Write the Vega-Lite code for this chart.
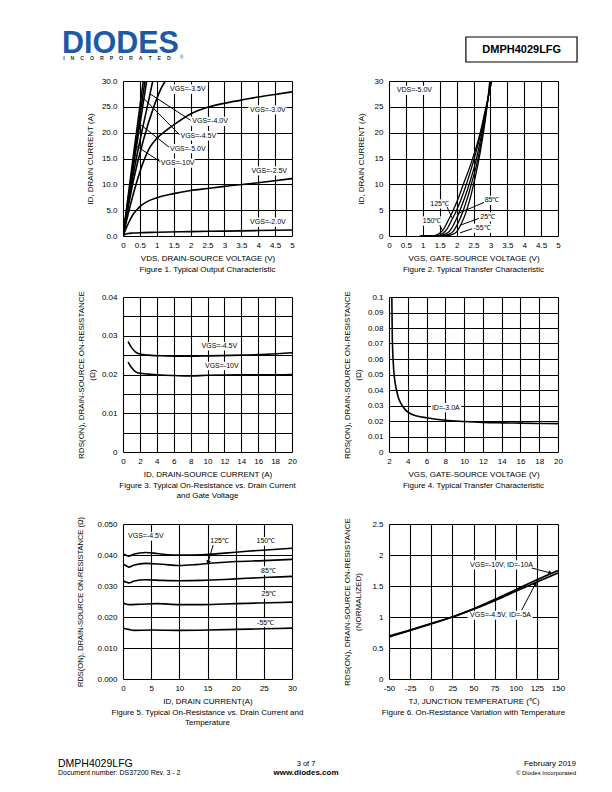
{
 "$schema": "https://vega.github.io/schema/vega-lite/v6.json",
 "padding": {"left": 58, "top": 28, "right": 0, "bottom": 0},
 "autosize": {"type": "pad"},
 "background": "white",
 "config": {
  "font": "Liberation Sans",
  "view": {"stroke": null},
  "axis": {"grid": true, "gridColor": "#000", "gridWidth": 1.1, "gridOpacity": 1, "domain": false, "ticks": false, "labelFontSize": 8, "labelColor": "#000", "labelFont": "Liberation Sans", "titleFont": "Liberation Sans", "titleFontSize": 8, "titleFontWeight": "normal", "titleColor": "#000", "labelOverlap": false, "labelFlush": false},
  "axisX": {"labelPadding": 5, "titlePadding": 5},
  "axisY": {"labelPadding": 6, "titlePadding": 7, "titleLineHeight": 11},
  "title": {"orient": "bottom", "fontSize": 8, "fontWeight": "normal", "font": "Liberation Sans", "color": "#000", "offset": 4, "anchor": "middle", "frame": "group", "lineHeight": 9.5}
 },
 "spacing": 14,
 "vconcat": [
  {
   "width": 450, "height": 35,
   "encoding": {
    "x": {"field": "x", "type": "quantitative", "scale": {"domain": [0, 100], "nice": false, "zero": false}, "axis": null},
    "y": {"field": "y", "type": "quantitative", "scale": {"domain": [0, 10], "nice": false, "zero": false}, "axis": null}
   },
   "layer": [
    {"data": {"values": [{"x": -13.56, "y": 3.0, "t": "DIODES"}]}, "mark": {"type": "text", "align": "left", "baseline": "alphabetic", "fontSize": 30.5, "fontWeight": "bold", "color": "#1c5aa6"}, "encoding": {"text": {"field": "t"}}},
    {"data": {"values": [{"x": -13.3, "y": 0.9, "t": "I\u00a0\u00a0\u00a0\u00a0N\u00a0\u00a0\u00a0\u00a0C\u00a0\u00a0\u00a0\u00a0O\u00a0\u00a0\u00a0\u00a0R\u00a0\u00a0\u00a0\u00a0P\u00a0\u00a0\u00a0\u00a0O\u00a0\u00a0\u00a0\u00a0R\u00a0\u00a0\u00a0\u00a0A\u00a0\u00a0\u00a0\u00a0T\u00a0\u00a0\u00a0\u00a0E\u00a0\u00a0\u00a0\u00a0D"}]}, "mark": {"type": "text", "align": "left", "baseline": "alphabetic", "fontSize": 5.3, "fontWeight": "bold", "color": "#333"}, "encoding": {"text": {"field": "t"}}},
    {"data": {"values": [{"x": 12.6, "y": 1.1, "t": "®"}]}, "mark": {"type": "text", "align": "left", "baseline": "alphabetic", "fontSize": 5, "color": "#1c5aa6"}, "encoding": {"text": {"field": "t"}}},
    {"data": {"values": [{"x": 76.2, "xe": 100.9, "y": 0.29, "ye": 7.43}]}, "mark": {"type": "rect", "fill": null, "stroke": "#000", "strokeWidth": 1.2}, "encoding": {"x2": {"field": "xe"}, "y2": {"field": "ye"}}},
    {"data": {"values": [{"x": 88.6, "y": 3.7, "t": "DMPH4029LFG"}]}, "mark": {"type": "text", "align": "center", "baseline": "middle", "fontSize": 11, "fontWeight": "bold", "color": "#000"}, "encoding": {"text": {"field": "t"}}}
   ]
  },
  {
   "columns": 2,
   "align": "each",
   "spacing": {"row": 16, "column": 39},
   "concat": [
    {
     "width": 169, "height": 155,
     "title": {"text": "Figure 1. Typical Output Characteristic"},
     "encoding": {
      "x": {"field": "x", "type": "quantitative", "scale": {"domain": [0, 5], "nice": false, "zero": false}, "axis": {"title": "VDS, DRAIN-SOURCE VOLTAGE (V)", "values": [0, 0.5, 1, 1.5, 2, 2.5, 3, 3.5, 4, 4.5, 5], "format": "~g"}},
      "y": {"field": "y", "type": "quantitative", "scale": {"domain": [0, 30], "nice": false}, "axis": {"title": "ID, DRAIN CURRENT (A)", "values": [0, 5, 10, 15, 20, 25, 30], "format": ".1f", "titlePadding": 7}}
     },
     "layer": [
      {"data": {"values": [
        {"x": 1.34, "xe": 2.47, "y": 27.5, "ye": 29.3},
        {"x": 3.71, "xe": 4.84, "y": 23.5, "ye": 25.3},
        {"x": 2.0, "xe": 3.13, "y": 21.3, "ye": 23.1},
        {"x": 1.65, "xe": 2.78, "y": 18.5, "ye": 20.3},
        {"x": 1.34, "xe": 2.47, "y": 16.0, "ye": 17.8},
        {"x": 1.07, "xe": 2.12, "y": 13.2, "ye": 15.0},
        {"x": 3.75, "xe": 4.88, "y": 11.7, "ye": 13.5},
        {"x": 3.71, "xe": 4.84, "y": 1.8, "ye": 3.6}
       ]}, "mark": {"type": "rect", "fill": "white"}, "encoding": {"x2": {"field": "xe"}, "y2": {"field": "ye"}}},
      {"data": {"values": [
        {"s": "-2.0", "x": 0, "y": 0}, {"s": "-2.0", "x": 0.05, "y": 0.3}, {"s": "-2.0", "x": 0.15, "y": 0.5}, {"s": "-2.0", "x": 0.3, "y": 0.58}, {"s": "-2.0", "x": 0.6, "y": 0.65}, {"s": "-2.0", "x": 1, "y": 0.72}, {"s": "-2.0", "x": 2, "y": 0.85}, {"s": "-2.0", "x": 3, "y": 0.95}, {"s": "-2.0", "x": 4, "y": 1.05}, {"s": "-2.0", "x": 5, "y": 1.15},
        {"s": "-2.5", "x": 0, "y": 0}, {"s": "-2.5", "x": 0.1, "y": 1.6}, {"s": "-2.5", "x": 0.2, "y": 3.0}, {"s": "-2.5", "x": 0.3, "y": 4.2}, {"s": "-2.5", "x": 0.4, "y": 5.0}, {"s": "-2.5", "x": 0.5, "y": 5.7}, {"s": "-2.5", "x": 0.7, "y": 6.6}, {"s": "-2.5", "x": 1, "y": 7.4}, {"s": "-2.5", "x": 1.5, "y": 8.2}, {"s": "-2.5", "x": 2, "y": 8.8}, {"s": "-2.5", "x": 2.5, "y": 9.2}, {"s": "-2.5", "x": 3, "y": 9.6}, {"s": "-2.5", "x": 4, "y": 10.3}, {"s": "-2.5", "x": 5, "y": 11.1},
        {"s": "-3.0", "x": 0, "y": 0}, {"s": "-3.0", "x": 0.2, "y": 5.5}, {"s": "-3.0", "x": 0.4, "y": 10.3}, {"s": "-3.0", "x": 0.6, "y": 14.3}, {"s": "-3.0", "x": 0.8, "y": 17.2}, {"s": "-3.0", "x": 1, "y": 18.9}, {"s": "-3.0", "x": 1.25, "y": 20.3}, {"s": "-3.0", "x": 1.5, "y": 21.5}, {"s": "-3.0", "x": 2, "y": 23.6}, {"s": "-3.0", "x": 2.5, "y": 24.9}, {"s": "-3.0", "x": 3, "y": 25.7}, {"s": "-3.0", "x": 3.5, "y": 26.3}, {"s": "-3.0", "x": 4, "y": 26.9}, {"s": "-3.0", "x": 4.5, "y": 27.4}, {"s": "-3.0", "x": 5, "y": 27.9},
        {"s": "-3.5", "x": 0, "y": 0}, {"s": "-3.5", "x": 0.3, "y": 10.5}, {"s": "-3.5", "x": 0.6, "y": 18.5}, {"s": "-3.5", "x": 0.9, "y": 24.8}, {"s": "-3.5", "x": 1.1, "y": 28.2}, {"s": "-3.5", "x": 1.25, "y": 30},
        {"s": "-4.0", "x": 0, "y": 0}, {"s": "-4.0", "x": 0.3, "y": 11.8}, {"s": "-4.0", "x": 0.6, "y": 21.5}, {"s": "-4.0", "x": 0.8, "y": 27.5}, {"s": "-4.0", "x": 0.88, "y": 30},
        {"s": "-4.5", "x": 0, "y": 0}, {"s": "-4.5", "x": 0.3, "y": 13.2}, {"s": "-4.5", "x": 0.7, "y": 30},
        {"s": "-5.0", "x": 0, "y": 0}, {"s": "-5.0", "x": 0.3, "y": 14}, {"s": "-5.0", "x": 0.65, "y": 30},
        {"s": "-10", "x": 0, "y": 0}, {"s": "-10", "x": 0.3, "y": 15.2}, {"s": "-10", "x": 0.6, "y": 30}
       ]}, "mark": {"type": "line", "color": "#000", "strokeWidth": 1.6, "interpolate": "monotone", "clip": true}, "encoding": {"detail": {"field": "s", "type": "nominal"}}},
      {"data": {"values": [
        {"x": 2.0, "y": 22.4, "xe": 0.8, "ye": 27.5},
        {"x": 1.67, "y": 19.6, "xe": 0.62, "ye": 26.6},
        {"x": 1.36, "y": 17.2, "xe": 0.47, "ye": 21.8},
        {"x": 1.1, "y": 14.4, "xe": 0.35, "ye": 17.6}
       ]}, "mark": {"type": "rule", "color": "#000", "strokeWidth": 1}, "encoding": {"x2": {"field": "xe"}, "y2": {"field": "ye"}}},
      {"data": {"values": [
        {"x": 1.39, "y": 28.4, "t": "VGS=-3.5V"},
        {"x": 3.76, "y": 24.4, "t": "VGS=-3.0V"},
        {"x": 2.05, "y": 22.2, "t": "VGS=-4.0V"},
        {"x": 1.7, "y": 19.4, "t": "VGS=-4.5V"},
        {"x": 1.39, "y": 16.9, "t": "VGS=-5.0V"},
        {"x": 1.12, "y": 14.1, "t": "VGS=-10V"},
        {"x": 3.8, "y": 12.6, "t": "VGS=-2.5V"},
        {"x": 3.76, "y": 2.7, "t": "VGS=-2.0V"}
       ]}, "mark": {"type": "text", "align": "left", "baseline": "middle", "fontSize": 7, "color": "#000"}, "encoding": {"text": {"field": "t"}}}
     ]
    },
    {
     "width": 169, "height": 155,
     "title": {"text": "Figure 2. Typical Transfer Characteristic"},
     "encoding": {
      "x": {"field": "x", "type": "quantitative", "scale": {"domain": [0, 5], "nice": false, "zero": false}, "axis": {"title": "VGS, GATE-SOURCE VOLTAGE (V)", "values": [0, 0.5, 1, 1.5, 2, 2.5, 3, 3.5, 4, 4.5, 5], "format": "~g"}},
      "y": {"field": "y", "type": "quantitative", "scale": {"domain": [0, 30], "nice": false}, "axis": {"title": "ID, DRAIN CURRENT (A)", "values": [0, 5, 10, 15, 20, 25, 30], "format": "d", "titlePadding": 9}}
     },
     "layer": [
      {"data": {"values": [
        {"x": 0.18, "xe": 1.33, "y": 27.3, "ye": 29.1},
        {"x": 1.17, "xe": 1.83, "y": 5.3, "ye": 7.1},
        {"x": 0.95, "xe": 1.61, "y": 2.0, "ye": 3.8},
        {"x": 2.78, "xe": 3.3, "y": 6.0, "ye": 7.8},
        {"x": 2.65, "xe": 3.17, "y": 2.8, "ye": 4.6},
        {"x": 2.45, "xe": 3.1, "y": 0.6, "ye": 2.4}
       ]}, "mark": {"type": "rect", "fill": "white"}, "encoding": {"x2": {"field": "xe"}, "y2": {"field": "ye"}}},
      {"data": {"values": [
        {"s": "150", "x": 0.9, "y": 0}, {"s": "150", "x": 1.3, "y": 0.05}, {"s": "150", "x": 1.45, "y": 0.35}, {"s": "150", "x": 1.6, "y": 1.2}, {"s": "150", "x": 1.75, "y": 3.0}, {"s": "150", "x": 1.9, "y": 5}, {"s": "150", "x": 2.05, "y": 7.3}, {"s": "150", "x": 2.2, "y": 10}, {"s": "150", "x": 2.45, "y": 14.5}, {"s": "150", "x": 2.7, "y": 20}, {"s": "150", "x": 2.88, "y": 25.3}, {"s": "150", "x": 3.04, "y": 30},
        {"s": "125", "x": 0.95, "y": 0}, {"s": "125", "x": 1.4, "y": 0.05}, {"s": "125", "x": 1.55, "y": 0.35}, {"s": "125", "x": 1.7, "y": 1.2}, {"s": "125", "x": 1.85, "y": 3.0}, {"s": "125", "x": 2.0, "y": 5}, {"s": "125", "x": 2.15, "y": 7.4}, {"s": "125", "x": 2.3, "y": 10.2}, {"s": "125", "x": 2.5, "y": 14.5}, {"s": "125", "x": 2.72, "y": 20}, {"s": "125", "x": 2.9, "y": 25.5}, {"s": "125", "x": 3.03, "y": 30},
        {"s": "85", "x": 1.0, "y": 0}, {"s": "85", "x": 1.5, "y": 0.05}, {"s": "85", "x": 1.65, "y": 0.35}, {"s": "85", "x": 1.8, "y": 1.0}, {"s": "85", "x": 1.95, "y": 2.7}, {"s": "85", "x": 2.1, "y": 5}, {"s": "85", "x": 2.25, "y": 7.6}, {"s": "85", "x": 2.4, "y": 10.6}, {"s": "85", "x": 2.55, "y": 14}, {"s": "85", "x": 2.75, "y": 20}, {"s": "85", "x": 2.9, "y": 25.5}, {"s": "85", "x": 3.02, "y": 30},
        {"s": "25", "x": 1.1, "y": 0}, {"s": "25", "x": 1.6, "y": 0.05}, {"s": "25", "x": 1.75, "y": 0.3}, {"s": "25", "x": 1.9, "y": 0.9}, {"s": "25", "x": 2.05, "y": 2.6}, {"s": "25", "x": 2.2, "y": 5}, {"s": "25", "x": 2.35, "y": 8.0}, {"s": "25", "x": 2.47, "y": 10.8}, {"s": "25", "x": 2.6, "y": 14}, {"s": "25", "x": 2.76, "y": 19.5}, {"s": "25", "x": 2.9, "y": 25.2}, {"s": "25", "x": 3.0, "y": 30},
        {"s": "-55", "x": 1.2, "y": 0}, {"s": "-55", "x": 1.7, "y": 0.05}, {"s": "-55", "x": 1.85, "y": 0.25}, {"s": "-55", "x": 2.0, "y": 0.8}, {"s": "-55", "x": 2.15, "y": 2.5}, {"s": "-55", "x": 2.3, "y": 5}, {"s": "-55", "x": 2.43, "y": 8}, {"s": "-55", "x": 2.53, "y": 10.8}, {"s": "-55", "x": 2.63, "y": 13.8}, {"s": "-55", "x": 2.77, "y": 19}, {"s": "-55", "x": 2.9, "y": 25}, {"s": "-55", "x": 2.98, "y": 30}
       ]}, "mark": {"type": "line", "color": "#000", "strokeWidth": 1.3, "interpolate": "monotone", "clip": true}, "encoding": {"detail": {"field": "s", "type": "nominal"}}},
      {"data": {"values": [
        {"x": 2.81, "y": 6.5, "xe": 2.06, "ye": 4.4},
        {"x": 2.66, "y": 3.4, "xe": 2.11, "ye": 2.1},
        {"x": 2.46, "y": 1.4, "xe": 2.1, "ye": 0.6},
        {"x": 1.72, "y": 5.6, "xe": 1.87, "ye": 3.4},
        {"x": 1.5, "y": 2.1, "xe": 1.6, "ye": 0.9}
       ]}, "mark": {"type": "rule", "color": "#000", "strokeWidth": 1}, "encoding": {"x2": {"field": "xe"}, "y2": {"field": "ye"}}},
      {"data": {"values": [
        {"x": 0.23, "y": 28.2, "t": "VDS=-5.0V"},
        {"x": 1.22, "y": 6.2, "t": "125℃"},
        {"x": 1.0, "y": 2.9, "t": "150℃"},
        {"x": 2.83, "y": 6.9, "t": "85℃"},
        {"x": 2.7, "y": 3.7, "t": "25℃"},
        {"x": 2.5, "y": 1.5, "t": "-55℃"}
       ]}, "mark": {"type": "text", "align": "left", "baseline": "middle", "fontSize": 7, "color": "#000"}, "encoding": {"text": {"field": "t"}}}
     ]
    },
    {
     "width": 169, "height": 155,
     "title": {"text": ["Figure 3. Typical On-Resistance vs. Drain Current", "and Gate Voltage"]},
     "encoding": {
      "x": {"field": "x", "type": "quantitative", "scale": {"domain": [0, 20], "nice": false, "zero": false}, "axis": {"title": "ID, DRAIN-SOURCE CURRENT (A)", "values": [0, 2, 4, 6, 8, 10, 12, 14, 16, 18, 20], "format": "d"}},
      "y": {"field": "y", "type": "quantitative", "scale": {"domain": [0, 0.04], "nice": false}, "axis": {"title": ["RDS(ON), DRAIN-SOURCE ON-RESISTANCE", "(Ω)"], "values": [0, 0.005, 0.01, 0.015, 0.02, 0.025, 0.03, 0.035, 0.04], "labelExpr": "(round(datum.value*1000) % 10 == 0) ? (datum.value == 0 ? '0' : format(datum.value, '.2f')) : ''", "titlePadding": 5}}
     },
     "layer": [
      {"data": {"values": [
        {"x": 9.2, "xe": 13.6, "y": 0.0262, "ye": 0.0284},
        {"x": 9.6, "xe": 13.8, "y": 0.0211, "ye": 0.0233}
       ]}, "mark": {"type": "rect", "fill": "white"}, "encoding": {"x2": {"field": "xe"}, "y2": {"field": "ye"}}},
      {"data": {"values": [
        {"s": "-4.5", "x": 0.6, "y": 0.0285}, {"s": "-4.5", "x": 1, "y": 0.027}, {"s": "-4.5", "x": 1.5, "y": 0.0258}, {"s": "-4.5", "x": 2, "y": 0.0253}, {"s": "-4.5", "x": 3, "y": 0.025}, {"s": "-4.5", "x": 5, "y": 0.0248}, {"s": "-4.5", "x": 8, "y": 0.0247}, {"s": "-4.5", "x": 10, "y": 0.0248}, {"s": "-4.5", "x": 14, "y": 0.025}, {"s": "-4.5", "x": 17, "y": 0.0252}, {"s": "-4.5", "x": 20, "y": 0.0256},
        {"s": "-10", "x": 0.6, "y": 0.0232}, {"s": "-10", "x": 1, "y": 0.0218}, {"s": "-10", "x": 1.5, "y": 0.0207}, {"s": "-10", "x": 2, "y": 0.0203}, {"s": "-10", "x": 3, "y": 0.0201}, {"s": "-10", "x": 5, "y": 0.0198}, {"s": "-10", "x": 8, "y": 0.0196}, {"s": "-10", "x": 10, "y": 0.0198}, {"s": "-10", "x": 14, "y": 0.0199}, {"s": "-10", "x": 17, "y": 0.0199}, {"s": "-10", "x": 20, "y": 0.02}
       ]}, "mark": {"type": "line", "color": "#000", "strokeWidth": 1.6, "interpolate": "monotone", "clip": true}, "encoding": {"detail": {"field": "s", "type": "nominal"}}},
      {"data": {"values": [
        {"x": 9.3, "y": 0.0273, "t": "VGS=-4.5V"},
        {"x": 9.7, "y": 0.0222, "t": "VGS=-10V"}
       ]}, "mark": {"type": "text", "align": "left", "baseline": "middle", "fontSize": 7, "color": "#000"}, "encoding": {"text": {"field": "t"}}}
     ]
    },
    {
     "width": 169, "height": 155,
     "title": {"text": "Figure 4. Typical Transfer Characteristic"},
     "encoding": {
      "x": {"field": "x", "type": "quantitative", "scale": {"domain": [2, 20], "nice": false, "zero": false}, "axis": {"title": "VGS, GATE-SOURCE VOLTAGE (V)", "values": [2, 4, 6, 8, 10, 12, 14, 16, 18, 20], "format": "d"}},
      "y": {"field": "y", "type": "quantitative", "scale": {"domain": [0, 0.1], "nice": false}, "axis": {"title": ["RDS(ON), DRAIN-SOURCE ON-RESISTANCE", "(Ω)"], "values": [0, 0.01, 0.02, 0.03, 0.04, 0.05, 0.06, 0.07, 0.08, 0.09, 0.1], "labelExpr": "datum.value == 0 ? '0' : (datum.value > 0.095 ? '0.1' : format(datum.value, '.2f'))", "titlePadding": 5}}
     },
     "layer": [
      {"data": {"values": [
        {"x": 6.45, "xe": 9.7, "y": 0.0256, "ye": 0.0316}
       ]}, "mark": {"type": "rect", "fill": "white"}, "encoding": {"x2": {"field": "xe"}, "y2": {"field": "ye"}}},
      {"data": {"values": [
        {"x": 2.3, "y": 0.1}, {"x": 2.35, "y": 0.075}, {"x": 2.45, "y": 0.058}, {"x": 2.6, "y": 0.047}, {"x": 2.8, "y": 0.04}, {"x": 3.0, "y": 0.035}, {"x": 3.3, "y": 0.031}, {"x": 3.7, "y": 0.0275}, {"x": 4.2, "y": 0.025}, {"x": 5, "y": 0.0232}, {"x": 6, "y": 0.0221}, {"x": 8, "y": 0.0205}, {"x": 10, "y": 0.0197}, {"x": 12, "y": 0.0191}, {"x": 14, "y": 0.0188}, {"x": 16, "y": 0.0186}, {"x": 18, "y": 0.0184}, {"x": 20, "y": 0.0183}
       ]}, "mark": {"type": "line", "color": "#000", "strokeWidth": 1.6, "interpolate": "monotone", "clip": true}},
      {"data": {"values": [
        {"x": 6.57, "y": 0.0286, "t": "ID=-3.0A"}
       ]}, "mark": {"type": "text", "align": "left", "baseline": "middle", "fontSize": 7, "color": "#000"}, "encoding": {"text": {"field": "t"}}}
     ]
    },
    {
     "width": 169, "height": 155,
     "title": {"text": ["Figure 5. Typical On-Resistance vs. Drain Current and", "Temperature"]},
     "encoding": {
      "x": {"field": "x", "type": "quantitative", "scale": {"domain": [0, 30], "nice": false, "zero": false}, "axis": {"title": "ID, DRAIN CURRENT(A)", "values": [0, 5, 10, 15, 20, 25, 30], "format": "d"}},
      "y": {"field": "y", "type": "quantitative", "scale": {"domain": [0, 0.05], "nice": false}, "axis": {"title": "RDS(ON), DRAIN-SOURCE ON-RESISTANCE (Ω)", "titleFontSize": 7.5, "values": [0, 0.01, 0.02, 0.03, 0.04, 0.05], "format": ".3f", "titlePadding": 12}}
     },
     "layer": [
      {"data": {"values": [
        {"x": 0.8, "xe": 7.2, "y": 0.0446, "ye": 0.0474},
        {"x": 15.3, "xe": 18.9, "y": 0.0432, "ye": 0.046},
        {"x": 23.5, "xe": 27.1, "y": 0.043, "ye": 0.0458},
        {"x": 24.3, "xe": 27.3, "y": 0.0336, "ye": 0.0364},
        {"x": 24.4, "xe": 27.4, "y": 0.0259, "ye": 0.0287},
        {"x": 23.6, "xe": 27.5, "y": 0.0168, "ye": 0.0196}
       ]}, "mark": {"type": "rect", "fill": "white"}, "encoding": {"x2": {"field": "xe"}, "y2": {"field": "ye"}}},
      {"data": {"values": [
        {"s": "150", "x": 0, "y": 0.0402}, {"s": "150", "x": 0.5, "y": 0.04}, {"s": "150", "x": 1, "y": 0.0396}, {"s": "150", "x": 2, "y": 0.0403}, {"s": "150", "x": 4, "y": 0.0408}, {"s": "150", "x": 6, "y": 0.0405}, {"s": "150", "x": 8, "y": 0.0401}, {"s": "150", "x": 10, "y": 0.04}, {"s": "150", "x": 14, "y": 0.0401}, {"s": "150", "x": 18, "y": 0.0406}, {"s": "150", "x": 22, "y": 0.0412}, {"s": "150", "x": 26, "y": 0.0417}, {"s": "150", "x": 30, "y": 0.0422},
        {"s": "125", "x": 0, "y": 0.037}, {"s": "125", "x": 0.5, "y": 0.0366}, {"s": "125", "x": 1, "y": 0.0361}, {"s": "125", "x": 2, "y": 0.0368}, {"s": "125", "x": 4, "y": 0.0373}, {"s": "125", "x": 7, "y": 0.037}, {"s": "125", "x": 10, "y": 0.0366}, {"s": "125", "x": 13, "y": 0.0369}, {"s": "125", "x": 16, "y": 0.0374}, {"s": "125", "x": 20, "y": 0.0379}, {"s": "125", "x": 25, "y": 0.0382}, {"s": "125", "x": 30, "y": 0.0386},
        {"s": "85", "x": 0, "y": 0.0316}, {"s": "85", "x": 0.5, "y": 0.0313}, {"s": "85", "x": 1, "y": 0.031}, {"s": "85", "x": 2, "y": 0.0316}, {"s": "85", "x": 4, "y": 0.032}, {"s": "85", "x": 7, "y": 0.0318}, {"s": "85", "x": 10, "y": 0.0317}, {"s": "85", "x": 14, "y": 0.0318}, {"s": "85", "x": 18, "y": 0.0321}, {"s": "85", "x": 22, "y": 0.0325}, {"s": "85", "x": 26, "y": 0.0328}, {"s": "85", "x": 30, "y": 0.0331},
        {"s": "25", "x": 0, "y": 0.0245}, {"s": "25", "x": 0.5, "y": 0.0242}, {"s": "25", "x": 1, "y": 0.024}, {"s": "25", "x": 3, "y": 0.0241}, {"s": "25", "x": 6, "y": 0.0243}, {"s": "25", "x": 10, "y": 0.024}, {"s": "25", "x": 14, "y": 0.024}, {"s": "25", "x": 18, "y": 0.0242}, {"s": "25", "x": 22, "y": 0.0244}, {"s": "25", "x": 26, "y": 0.0246}, {"s": "25", "x": 30, "y": 0.0248},
        {"s": "-55", "x": 0, "y": 0.0164}, {"s": "-55", "x": 1, "y": 0.016}, {"s": "-55", "x": 2, "y": 0.0157}, {"s": "-55", "x": 5, "y": 0.0158}, {"s": "-55", "x": 10, "y": 0.0157}, {"s": "-55", "x": 15, "y": 0.0158}, {"s": "-55", "x": 20, "y": 0.016}, {"s": "-55", "x": 25, "y": 0.0162}, {"s": "-55", "x": 30, "y": 0.0164}
       ]}, "mark": {"type": "line", "color": "#000", "strokeWidth": 1.6, "interpolate": "monotone", "clip": true}, "encoding": {"detail": {"field": "s", "type": "nominal"}}},
      {"data": {"values": [
        {"x": 16.0, "y": 0.0432, "xe": 15.1, "ye": 0.0376}
       ]}, "mark": {"type": "rule", "color": "#000", "strokeWidth": 1}, "encoding": {"x2": {"field": "xe"}, "y2": {"field": "ye"}}},
      {"data": {"values": [
        {"x": 15.1, "y": 0.0376}
       ]}, "mark": {"type": "point", "shape": "triangle-down", "filled": true, "color": "#000", "opacity": 1, "size": 22, "angle": 16}},
      {"data": {"values": [
        {"x": 0.9, "y": 0.046, "t": "VGS=-4.5V"},
        {"x": 15.5, "y": 0.0446, "t": "125℃"},
        {"x": 23.7, "y": 0.0444, "t": "150℃"},
        {"x": 24.5, "y": 0.035, "t": "85℃"},
        {"x": 24.6, "y": 0.0273, "t": "25℃"},
        {"x": 23.8, "y": 0.0182, "t": "-55℃"}
       ]}, "mark": {"type": "text", "align": "left", "baseline": "middle", "fontSize": 7, "color": "#000"}, "encoding": {"text": {"field": "t"}}}
     ]
    },
    {
     "width": 169, "height": 155,
     "title": {"text": "Figure 6. On-Resistance Variation with Temperature"},
     "encoding": {
      "x": {"field": "x", "type": "quantitative", "scale": {"domain": [-50, 150], "nice": false, "zero": false}, "axis": {"title": "TJ, JUNCTION TEMPERATURE (℃)", "values": [-50, -25, 0, 25, 50, 75, 100, 125, 150], "labelExpr": "'' + datum.value"}},
      "y": {"field": "y", "type": "quantitative", "scale": {"domain": [0, 2.5], "nice": false}, "axis": {"title": ["RDS(ON), DRAIN-SOURCE ON-RESISTANCE", "(NORMALIZED)"], "values": [0, 0.5, 1, 1.5, 2, 2.5], "format": "~g", "titlePadding": 9}}
     },
     "layer": [
      {"data": {"values": [
        {"x": 43, "xe": 122, "y": 1.765, "ye": 1.915},
        {"x": 43, "xe": 120, "y": 0.955, "ye": 1.1}
       ]}, "mark": {"type": "rect", "fill": "white"}, "encoding": {"x2": {"field": "xe"}, "y2": {"field": "ye"}}},
      {"data": {"values": [
        {"s": "a", "x": -50, "y": 0.68}, {"s": "a", "x": -25, "y": 0.785}, {"s": "a", "x": 0, "y": 0.89}, {"s": "a", "x": 25, "y": 1.0}, {"s": "a", "x": 50, "y": 1.13}, {"s": "a", "x": 75, "y": 1.28}, {"s": "a", "x": 100, "y": 1.44}, {"s": "a", "x": 125, "y": 1.6}, {"s": "a", "x": 150, "y": 1.75},
        {"s": "b", "x": -50, "y": 0.69}, {"s": "b", "x": -25, "y": 0.79}, {"s": "b", "x": 0, "y": 0.895}, {"s": "b", "x": 25, "y": 1.0}, {"s": "b", "x": 50, "y": 1.125}, {"s": "b", "x": 75, "y": 1.265}, {"s": "b", "x": 100, "y": 1.415}, {"s": "b", "x": 125, "y": 1.565}, {"s": "b", "x": 150, "y": 1.71}
       ]}, "mark": {"type": "line", "color": "#000", "strokeWidth": 1.8, "interpolate": "monotone", "clip": true}, "encoding": {"detail": {"field": "s", "type": "nominal"}}},
      {"data": {"values": [
        {"x": 119, "y": 1.79, "xe": 141, "ye": 1.71},
        {"x": 107, "y": 1.11, "xe": 123.5, "ye": 1.54}
       ]}, "mark": {"type": "rule", "color": "#000", "strokeWidth": 1}, "encoding": {"x2": {"field": "xe"}, "y2": {"field": "ye"}}},
      {"data": {"values": [{"x": 141, "y": 1.71}]}, "mark": {"type": "point", "shape": "triangle-down", "filled": true, "color": "#000", "opacity": 1, "size": 22, "angle": -73}},
      {"data": {"values": [{"x": 123.5, "y": 1.54}]}, "mark": {"type": "point", "shape": "triangle-down", "filled": true, "color": "#000", "opacity": 1, "size": 22, "angle": 208}},
      {"data": {"values": [
        {"x": 46, "y": 1.84, "t": "VGS=-10V, ID=-10A"},
        {"x": 46, "y": 1.03, "t": "VGS=-4.5V, ID=-5A"}
       ]}, "mark": {"type": "text", "align": "left", "baseline": "middle", "fontSize": 7, "color": "#000"}, "encoding": {"text": {"field": "t"}}}
     ]
    }
   ]
  },
  {
   "width": 450, "height": 34,
   "encoding": {
    "x": {"field": "x", "type": "quantitative", "scale": {"domain": [0, 100], "nice": false, "zero": false}, "axis": null},
    "y": {"field": "y", "type": "quantitative", "scale": {"domain": [0, 10], "nice": false, "zero": false}, "axis": null}
   },
   "layer": [
    {"data": {"values": [{"x": -14.44, "y": 3.24, "t": "DMPH4029LFG"}]}, "mark": {"type": "text", "align": "left", "baseline": "middle", "fontSize": 10.5, "color": "#000"}, "encoding": {"text": {"field": "t"}}},
    {"data": {"values": [{"x": -14.44, "y": 0.6, "t": "Document number: DS37200 Rev. 3 - 2"}]}, "mark": {"type": "text", "align": "left", "baseline": "middle", "fontSize": 7, "color": "#000"}, "encoding": {"text": {"field": "t"}}},
    {"data": {"values": [{"x": 40.67, "y": 3.24, "t": "3 of 7"}]}, "mark": {"type": "text", "align": "center", "baseline": "middle", "fontSize": 7.5, "color": "#000"}, "encoding": {"text": {"field": "t"}}},
    {"data": {"values": [{"x": 40.67, "y": 0.6, "t": "www.diodes.com"}]}, "mark": {"type": "text", "align": "center", "baseline": "middle", "fontSize": 8, "fontWeight": "bold", "color": "#000"}, "encoding": {"text": {"field": "t"}}},
    {"data": {"values": [{"x": 100.67, "y": 3.24, "t": "February 2019"}]}, "mark": {"type": "text", "align": "right", "baseline": "middle", "fontSize": 8, "color": "#000"}, "encoding": {"text": {"field": "t"}}},
    {"data": {"values": [{"x": 100.67, "y": 0.6, "t": "© Diodes Incorporated"}]}, "mark": {"type": "text", "align": "right", "baseline": "middle", "fontSize": 6, "color": "#000"}, "encoding": {"text": {"field": "t"}}}
   ]
  }
 ]
}
